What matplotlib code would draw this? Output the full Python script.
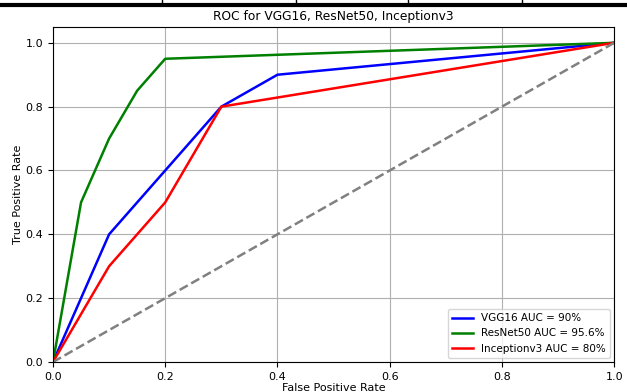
import matplotlib.pyplot as plt
from matplotlib.lines import Line2D

# ROC points
vgg_fpr = [0.0, 0.1, 0.3, 0.4, 1.0]
vgg_tpr = [0.0, 0.4, 0.8, 0.9, 1.0]
resnet_fpr = [0.0, 0.05, 0.1, 0.15, 0.2, 1.0]
resnet_tpr = [0.0, 0.5, 0.7, 0.85, 0.95, 1.0]
incep_fpr = [0.0, 0.1, 0.2, 0.3, 1.0]
incep_tpr = [0.0, 0.3, 0.5, 0.8, 1.0]
labels = ["VGG16 AUC = 90%", "ResNet50 AUC = 95.6%", "Inceptionv3 AUC = 80%"]

plt.rcParams['font.size'] = 8

fig = plt.figure(figsize=(6.27, 3.92), dpi=100)
ax = fig.add_axes([0.0845, 0.0765, 0.895, 0.855])

ax.plot(vgg_fpr, vgg_tpr, color='blue', lw=1.8, label=labels[0])
ax.plot(resnet_fpr, resnet_tpr, color='green', lw=1.8, label=labels[1])
ax.plot(incep_fpr, incep_tpr, color='red', lw=1.8, label=labels[2])
ax.plot([0, 1], [0, 1], color='gray', lw=1.8, linestyle='--')

ax.set_xlim(0, 1)
ax.set_ylim(0, 1.05)
ax.set_xlabel('False Positive Rate', labelpad=1)
ax.set_ylabel('True Positive Rate', labelpad=1.5)
ax.set_title('ROC for VGG16, ResNet50, Inceptionv3', fontsize=8.8, pad=5)
ax.grid(True)
ax.legend(loc='lower right', fontsize=7.5, borderaxespad=0.4)

# leftover table border above the chart
fig.add_artist(Line2D([0, 1], [0.9885, 0.9885], color='black', lw=3, transform=fig.transFigure))
for x in [162, 296, 408, 522]:
    fig.add_artist(Line2D([x / 627, x / 627], [0.988, 1.0], color='black', lw=1, transform=fig.transFigure))

fig.savefig('out.png', dpi=100)
